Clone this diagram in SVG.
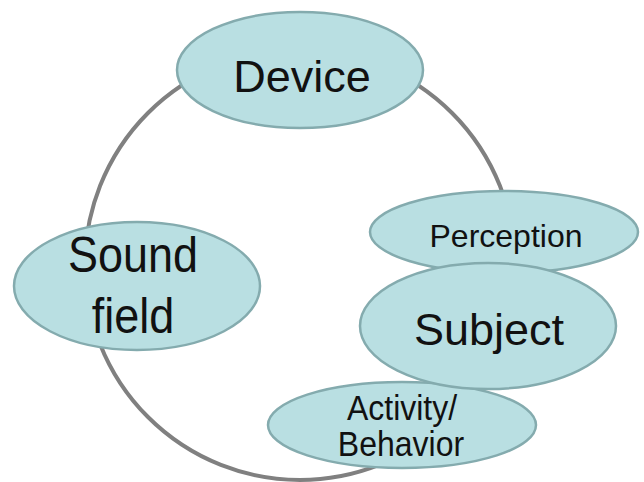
<svg xmlns="http://www.w3.org/2000/svg" width="644" height="482" viewBox="0 0 644 482">
  <style>
    .node ellipse { fill: #b9dfe2; stroke: #84abae; stroke-width: 2.5; }
    .node text { font-family: "Liberation Sans", Arial, sans-serif; fill: #111; text-anchor: middle; }
    .big { font-size: 45px; }
    .small { font-size: 32px; }
    .conn { fill: none; stroke: #808080; stroke-width: 4; }
  </style>
  <rect width="644" height="482" fill="#ffffff"/>
  <g id="connectors">
    <circle class="conn" cx="300" cy="265" r="215"/>
  </g>
  <g id="device" class="node">
    <ellipse cx="300" cy="70" rx="123" ry="58"/>
    <text class="big" x="302" y="92">Device</text>
  </g>
  <g id="sound-field" class="node">
    <ellipse cx="137" cy="286" rx="123" ry="64"/>
    <text class="big" transform="translate(133,272) scale(1,1.12)">Sound</text>
    <text class="big" transform="translate(133,333) scale(1,1.12)">field</text>
  </g>
  <g id="perception" class="node">
    <ellipse cx="504" cy="232" rx="134" ry="41"/>
    <text class="small" x="506" y="247">Perception</text>
  </g>
  <g id="activity-behavior" class="node">
    <ellipse cx="402" cy="425" rx="134" ry="43"/>
    <text class="small" transform="translate(402,420) scale(1,1.08)">Activity/</text>
    <text class="small" transform="translate(401,456) scale(1,1.08)">Behavior</text>
  </g>
  <g id="subject" class="node">
    <ellipse cx="488" cy="326" rx="128" ry="63"/>
    <text class="big" x="489" y="345">Subject</text>
  </g>
</svg>
